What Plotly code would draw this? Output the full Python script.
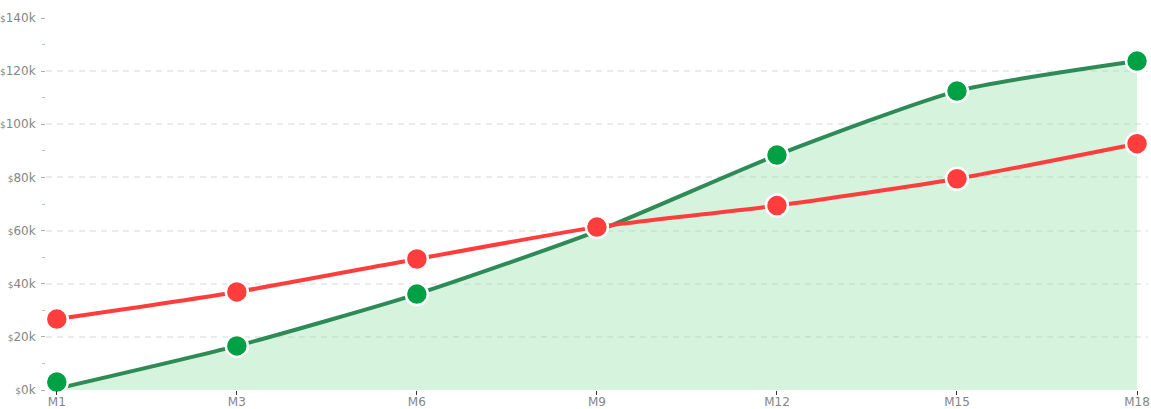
import plotly.graph_objects as go

# ---- data ----
months = ["M1", "M3", "M6", "M9", "M12", "M15", "M18"]
green_line = [500, 16600, 36100, 59800, 88400, 112500, 123800]     # line / area values
green_points = [3000, 16600, 36100, 59800, 88400, 112500, 123800]  # marker values
red_values = [26700, 36900, 49300, 61300, 69400, 79500, 92700]
y_ticks = [0, 20000, 40000, 60000, 80000, 100000, 120000, 140000]
y_tick_text = ["<span style='font-size:9px'>$</span>%dk" % (v // 1000) for v in y_ticks]

GREEN_LINE = "#2e8b57"
GREEN_DOT = "#00a045"
RED = "#ff3d3d"
FILL = "rgba(152,225,172,0.40)"
LABEL = "#858585"

fig = go.Figure()

fig.add_trace(go.Scatter(
    x=months, y=green_line, mode="lines",
    line=dict(color=GREEN_LINE, width=4, shape="spline", smoothing=0.6),
    fill="tozeroy", fillcolor=FILL, cliponaxis=False, hoverinfo="skip",
))
fig.add_trace(go.Scatter(
    x=months, y=red_values, mode="lines",
    line=dict(color=RED, width=4, shape="spline", smoothing=0.6),
    cliponaxis=False, hoverinfo="skip",
))
fig.add_trace(go.Scatter(
    x=months, y=green_points, mode="markers",
    marker=dict(color=GREEN_DOT, opacity=1, size=[22, 22, 22, 0, 22, 22, 22],
                line=dict(color="white", width=2.5)),
    cliponaxis=False,
))
fig.add_trace(go.Scatter(
    x=months, y=red_values, mode="markers",
    marker=dict(color=RED, opacity=1, size=22, line=dict(color="white", width=2.5)),
    cliponaxis=False,
))

fig.update_layout(
    width=1151, height=409,
    margin=dict(l=46, r=3, t=18, b=19, autoexpand=False),
    paper_bgcolor="white", plot_bgcolor="white",
    showlegend=False,
    font=dict(family="DejaVu Sans", color=LABEL, size=12),
    xaxis=dict(
        type="category", range=[-0.06, 6.061], automargin=False,
        showgrid=False, zeroline=False, showline=False,
        ticks="outside", ticklen=4, tickcolor="#333333", tickwidth=1,
        ticklabelstandoff=-3,
        tickfont=dict(size=12, color=LABEL),
    ),
    yaxis=dict(
        range=[0, 140000], automargin=False,
        tickvals=y_ticks, ticktext=y_tick_text,
        showgrid=True, gridcolor="#ebebeb", griddash="6px,5px", gridwidth=1.5,
        zeroline=False, showline=False,
        ticks="outside", ticklen=4, tickcolor="#b0b0b0", tickwidth=1,
        ticklabelstandoff=3,
        tickfont=dict(size=12, color=LABEL),
        minor=dict(ticks="outside", ticklen=3, tickcolor="#9fd4ac",
                   dtick=10000, tick0=0, showgrid=False),
    ),
)

fig.write_html(
    "out.html",
    config={"displayModeBar": False},
    post_script="document.body.style.margin='0';document.body.style.overflow='hidden';",
)
